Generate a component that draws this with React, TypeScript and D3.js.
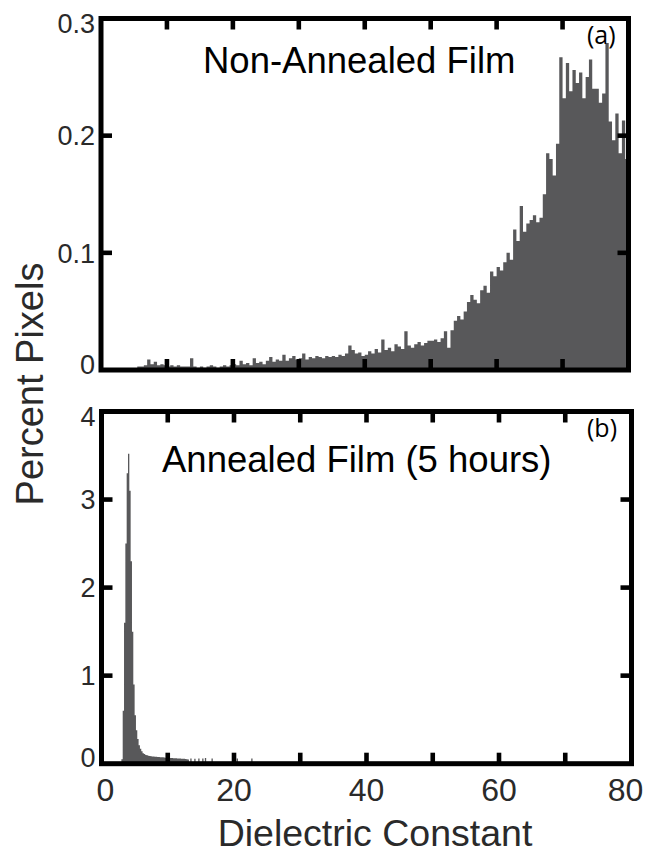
import React from 'react';
import * as d3 from 'd3';

// ---- Data ----
const topBinStart = 5.5;
const topBinWidth = 0.5;
const topPercent = [
  0.003, 0.003, 0.004, 0.009, 0.005, 0.007, 0.004, 0.005, 0.004,
  0.003, 0.004, 0.003, 0.004, 0.003, 0.003, 0.003, 0.010, 0.003, 0.002,
  0.003, 0.002, 0.003, 0.004, 0.003, 0.002, 0.003, 0.004, 0.003, 0.004,
  0.005, 0.004, 0.008, 0.005, 0.006, 0.004, 0.010, 0.006, 0.007, 0.005,
  0.008, 0.011, 0.007, 0.009, 0.008, 0.013, 0.008, 0.010, 0.012, 0.009,
  0.010, 0.014, 0.009, 0.011, 0.010, 0.012, 0.011, 0.010, 0.012, 0.011,
  0.012, 0.011, 0.013, 0.012, 0.014, 0.021, 0.017, 0.014, 0.015, 0.012,
  0.013, 0.016, 0.014, 0.018, 0.015, 0.026, 0.017, 0.019, 0.016, 0.022,
  0.020, 0.018, 0.033, 0.021, 0.019, 0.022, 0.024, 0.021, 0.023, 0.025,
  0.025, 0.026, 0.024, 0.027, 0.033, 0.019, 0.034, 0.042, 0.046, 0.043,
  0.050, 0.058, 0.064, 0.060, 0.057, 0.068, 0.072, 0.066, 0.084, 0.080,
  0.088, 0.085, 0.092, 0.100, 0.094, 0.120, 0.110, 0.140, 0.118, 0.125,
  0.128, 0.132, 0.126, 0.130, 0.150, 0.185, 0.180, 0.166, 0.193, 0.267,
  0.232, 0.262, 0.238, 0.256, 0.245, 0.254, 0.232, 0.250, 0.265, 0.240,
  0.240, 0.228, 0.236, 0.279, 0.212, 0.196, 0.219, 0.185, 0.213, 0.180,
];

const bottomBinStart = 3.0;
const bottomBinWidth = 0.2;
const bottomPercent = [
  0.05, 0.6, 1.6, 2.5, 3.3, 3.52, 3.1, 2.3, 1.5, 0.9,
  0.55, 0.38, 0.28, 0.21, 0.17, 0.14, 0.12, 0.11, 0.10, 0.095,
  0.09, 0.088, 0.085, 0.083, 0.082, 0.08, 0.078, 0.077, 0.075, 0.074,
  0.073, 0.072, 0.07, 0.069, 0.068, 0.067, 0.066, 0.065, 0.064, 0.063,
  0.062, 0.061, 0.06, 0.059, 0.058, 0.057, 0.056, 0.055, 0.054, 0.05,
  0.048, 0, 0.06, 0, 0, 0.055, 0, 0, 0.06, 0,
  0, 0.06, 0, 0.065, 0, 0, 0, 0, 0.06, 0,
  0, 0, 0, 0, 0, 0, 0, 0, 0, 0,
  0, 0, 0, 0, 0, 0, 0, 0.06, 0, 0,
  0, 0, 0, 0, 0, 0, 0, 0, 0.06,
];

const xTicks = [0, 10, 20, 30, 40, 50, 60, 70, 80];
const xTickLabels = [0, 20, 40, 60, 80];
const topYTicks = [0, 0.1, 0.2, 0.3];
const bottomYTicks = [0, 1, 2, 3, 4];

const BAR = '#58585a';
const TXT = '#2a2a2a';
const FONT = '"Liberation Sans", Arial, Helvetica, sans-serif';

function histPath(start: number, width: number, values: number[], x: any, y: any) {
  const pts = values.map((v, i) => ({ x: start + i * width, v }));
  pts.push({ x: start + values.length * width, v: values[values.length - 1] });
  const area = d3
    .area<any>()
    .curve(d3.curveStepAfter)
    .x((d) => x(d.x))
    .y0(y(0))
    .y1((d) => y(d.v));
  return area(pts) || '';
}

function Panel({ x, y, yTicks, fmt, start, width, values, showXLabels, title, titleX, titleY, tag, tagY }: any) {
  const [x0, x1] = x.range();
  const [yb, yt] = y.range();
  const tl = 11;
  const inner = xTicks.filter((t) => t > 0 && t < 80);
  const innerY = yTicks.filter((t: number, i: number) => i > 0 && i < yTicks.length - 1);
  return (
    <g>
      <path d={histPath(start, width, values, x, y)} fill={BAR} />
      {inner.map((t) => (
        <g key={'xt' + t}>
          <line x1={x(t)} x2={x(t)} y1={yb} y2={yb - tl} stroke="#000" strokeWidth={4.6} />
          <line x1={x(t)} x2={x(t)} y1={yt} y2={yt + tl} stroke="#000" strokeWidth={4.6} />
        </g>
      ))}
      {innerY.map((t: number) => (
        <g key={'yt' + t}>
          <line x1={x0} x2={x0 + tl} y1={y(t)} y2={y(t)} stroke="#000" strokeWidth={4.6} />
          <line x1={x1} x2={x1 - tl} y1={y(t)} y2={y(t)} stroke="#000" strokeWidth={4.6} />
        </g>
      ))}
      <rect x={x0} y={yt} width={x1 - x0} height={yb - yt} fill="none" stroke="#000" strokeWidth={5} />
      {yTicks.map((t: number, i: number) => {
        const off = i === 0 ? -6 : i === yTicks.length - 1 ? 5 : 0;
        return (
          <text key={'yl' + t} x={x0 - 6} y={y(t) + off} dy="0.36em" textAnchor="end" fontSize={27} fill={TXT} fontFamily={FONT}>
            {fmt(t)}
          </text>
        );
      })}
      {showXLabels &&
        xTickLabels.map((t, i) => {
          const off = i === 0 ? 4 : i === xTickLabels.length - 1 ? -6 : 0;
          return (
            <text key={'xl' + t} x={x(t) + off} y={yb + 37} textAnchor="middle" fontSize={32} fill={TXT} fontFamily={FONT}>
              {t}
            </text>
          );
        })}
      <text x={titleX} y={titleY} fontSize={36.5} fill="#000" fontFamily={FONT}>
        {title}
      </text>
      <text x={587} y={tagY} fontSize={25} fill="#000" fontFamily='"Open Sans", sans-serif'>
        {tag}
      </text>
    </g>
  );
}

export default function App() {
  const xTop = d3.scaleLinear().domain([0, 80]).range([101, 628.5]);
  const yTop = d3.scaleLinear().domain([0, 0.3]).range([370, 18.5]);
  const xBot = d3.scaleLinear().domain([0, 80]).range([101.5, 631.5]);
  const yBot = d3.scaleLinear().domain([0, 4]).range([763.7, 411.5]);
  return (
    <svg
      width={646}
      height={859}
      style={{ position: 'absolute', left: 0, top: 0, background: '#fff' }}
    >
      <rect width={646} height={859} fill="#fff" />
      <Panel
        x={xTop}
        y={yTop}
        yTicks={topYTicks}
        fmt={(t: number) => (t === 0 ? '0' : t.toFixed(1))}
        start={topBinStart}
        width={topBinWidth}
        values={topPercent}
        showXLabels={false}
        title="Non-Annealed Film"
        titleX={203}
        titleY={73}
        tag="(a)"
        tagY={44}
      />
      <Panel
        x={xBot}
        y={yBot}
        yTicks={bottomYTicks}
        fmt={(t: number) => String(t)}
        start={bottomBinStart}
        width={bottomBinWidth}
        values={bottomPercent}
        showXLabels={true}
        title="Annealed Film (5 hours)"
        titleX={162}
        titleY={472}
        tag="(b)"
        tagY={437}
      />
      <text
        transform="translate(43,384) rotate(-90)"
        textAnchor="middle"
        fontSize={38}
        fill={TXT}
        fontFamily={FONT}
      >
        Percent Pixels
      </text>
      <text x={375} y={846} textAnchor="middle" fontSize={37.5} fill={TXT} fontFamily={FONT}>
        Dielectric Constant
      </text>
    </svg>
  );
}
